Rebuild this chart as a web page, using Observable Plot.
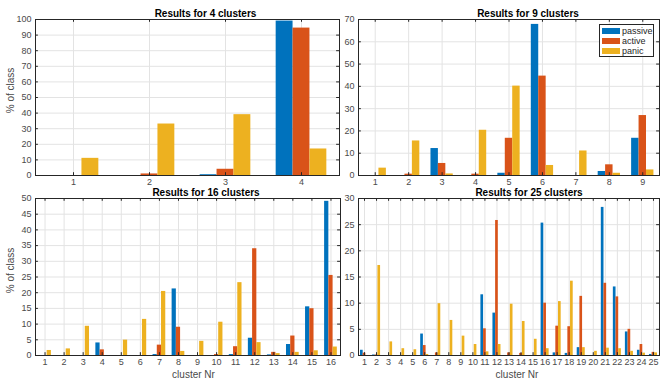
<!DOCTYPE html>
<html>
<head>
<meta charset="utf-8">
<script src="https://cdn.jsdelivr.net/npm/d3@7"></script>
<script src="https://cdn.jsdelivr.net/npm/@observablehq/plot@0.6"></script>
<style>
  html, body { margin: 0; padding: 0; background: #fff; }
  #chart { position: relative; width: 660px; height: 379px; overflow: hidden; background: #fff;
    font-family: "Liberation Sans", Arial, Helvetica, sans-serif; }
  #chart svg { position: absolute; }
  .legend { position: absolute; left: 599px; top: 24px; width: 53px; height: 31px;
    border: 1px solid #262626; background: #fff; font-size: 9px; color: #262626; }
  .legend .row { position: absolute; left: 2px; height: 10px; line-height: 10px; white-space: nowrap; }
  .legend .sw { position: absolute; left: 0; top: 2px; width: 18px; height: 6px; }
  .legend .lbl { position: absolute; left: 20px; top: 0; }
</style>
</head>
<body>
<div id="chart"></div>
<script>
// ---- data ----
const seriesNames = ["passive", "active", "panic"];
const seriesColors = ["#0072BD", "#D95319", "#EDB120"];

const titles = ["Results for 4 clusters", "Results for 9 clusters", "Results for 16 clusters", "Results for 25 clusters"];
const yLabel = "% of class";
const xLabel = "cluster Nr";

const passive4 = [0, 0, 0.5, 99];
const active4  = [0, 1, 4, 94.5];
const panic4   = [11, 33, 39, 17];

const passive9 = [0, 0, 12.1, 0, 1, 67.8, 0, 1.8, 16.7];
const active9  = [0, 0.6, 5.4, 0.6, 16.7, 44.6, 0, 4.8, 26.9];
const panic9   = [3.3, 15.5, 0.7, 20.3, 40.1, 4.5, 11, 1.0, 2.5];

const passive16 = [0, 0, 0, 4.0, 0, 0, 0.3, 21.2, 0, 0, 0.3, 5.5, 0.2, 3.5, 15.5, 49.1];
const active16  = [0, 0, 0, 1.8, 0, 0, 3.3, 9.0, 0, 0.3, 2.8, 34.0, 1.0, 6.2, 14.9, 25.5];
const panic16   = [1.6, 2.1, 9.3, 0, 4.9, 11.5, 20.4, 1.3, 4.5, 10.6, 23.2, 4.1, 0.6, 1.0, 1.5, 2.7];

const passive25 = [1.0, 0.1, 0, 0, 0, 4.1, 0, 0, 0, 0, 11.6, 8.1, 0, 0, 0, 25.3, 0.5, 0.4, 1.5, 0, 28.3, 13.1, 4.5, 1.0, 0.2];
const active25  = [0.45, 0.1, 0, 0, 0, 1.9, 0.5, 0, 0, 0, 5.1, 25.8, 0.5, 0.4, 0, 10.0, 5.6, 5.5, 11.3, 0, 13.8, 11.2, 5.0, 2.1, 0.6];
const panic25   = [0, 17.2, 2.6, 1.3, 1.1, 0.2, 9.9, 6.7, 3.7, 2.1, 0.7, 2.1, 9.8, 6.5, 3.1, 1.3, 10.3, 14.2, 1.5, 0.8, 1.4, 1.3, 0.8, 0.45, 0.5];

const yTicks4  = [0, 10, 20, 30, 40, 50, 60, 70, 80, 90, 100];
const yTicks9  = [0, 10, 20, 30, 40, 50, 60, 70];
const yTicks16 = [0, 5, 10, 15, 20, 25, 30, 35, 40, 45, 50];
const yTicks25 = [0, 5, 10, 15, 20, 25, 30];

// ---- layout ----
const panels = [
  {title: titles[0], vals: [passive4, active4, panic4], yTicks: yTicks4,
   left: 0, top: 0, width: 345, height: 190, mL: 35, mR: 6, mT: 19, mB: 15,
   titleDx: 18, titleDy: -6, ylab: true, ylabDy: -7, xlab: false},
  {title: titles[1], vals: [passive9, active9, panic9], yTicks: yTicks9,
   left: 330, top: 0, width: 330, height: 190, mL: 28, mR: 1, mT: 19, mB: 15,
   titleDx: 19, titleDy: -6, ylab: false, xlab: false},
  {title: titles[2], vals: [passive16, active16, panic16], yTicks: yTicks16,
   left: 0, top: 185, width: 345, height: 194, mL: 35, mR: 5, mT: 13, mB: 24,
   titleDx: 18, titleDy: -5.5, ylab: true, ylabDy: -6.5, xlab: true, xlabDx: 5.5},
  {title: titles[3], vals: [passive25, active25, panic25], yTicks: yTicks25,
   left: 330, top: 185, width: 330, height: 194, mL: 28, mR: 1, mT: 13, mB: 24,
   titleDx: 20, titleDy: -5.5, ylab: false, xlab: true, xlabDx: 8}
];

const chart = document.getElementById("chart");
const barW = 2 / 9; // MATLAB grouped bar width for 3 series
const axisColor = "#262626";
const gridColor = "#e3e3e3";
const tickText = "#4a4a4a";

for (const p of panels) {
  const n = p.vals[0].length;
  const clusters = d3.range(1, n + 1);
  const ymax = p.yTicks[p.yTicks.length - 1];
  const rows = [];
  p.vals.forEach((arr, j) => arr.forEach((v, i) => {
    rows.push({cluster: i + 1, series: seriesNames[j], j, value: v});
  }));
  const tx = n * 0.0095;     // inner tick length (x units)
  const ty = ymax * 0.018;   // inner tick length (y units)

  const marks = [
    Plot.gridX(clusters, {stroke: gridColor, strokeOpacity: 1}),
    Plot.gridY(p.yTicks, {stroke: gridColor, strokeOpacity: 1}),
    Plot.rectY(rows.filter(d => d.value > 0), {
      x1: d => d.cluster + (d.j - 1) * barW - barW / 2,
      x2: d => d.cluster + (d.j - 1) * barW + barW / 2,
      y1: 0, y2: "value",
      fill: d => seriesColors[d.j]
    }),
    // inward ticks
    Plot.ruleX(clusters, {x: d => d, y1: 0, y2: ty, stroke: axisColor}),
    Plot.ruleX(clusters, {x: d => d, y1: ymax, y2: ymax - ty, stroke: axisColor}),
    Plot.ruleY(p.yTicks, {y: d => d, x1: 0.5, x2: 0.5 + tx, stroke: axisColor}),
    Plot.ruleY(p.yTicks, {y: d => d, x1: n + 0.5, x2: n + 0.5 - tx, stroke: axisColor}),
    Plot.axisX(clusters, {tickSize: 0, tickPadding: 3, label: null, fill: tickText, fontSize: 9, tickFormat: d => String(d)}),
    Plot.axisY(p.yTicks, {tickSize: 0, tickPadding: 4, label: null, fill: tickText, fontSize: 9, tickFormat: d => String(d)}),
    Plot.frame({stroke: axisColor, strokeWidth: 1}),
    Plot.text([p.title], {text: d => d, frameAnchor: "top", lineAnchor: "middle", dx: p.titleDx, dy: p.titleDy,
      fontWeight: "bold", fontSize: 10, fill: "#000"})
  ];
  if (p.ylab) {
    marks.push(Plot.text([yLabel], {text: d => d, frameAnchor: "left", rotate: -90,
      textAnchor: "middle", lineAnchor: "middle",
      dx: -25, dy: p.ylabDy, fontSize: 10, fill: tickText}));
  }
  if (p.xlab) {
    marks.push(Plot.text([xLabel], {text: d => d, frameAnchor: "bottom", lineAnchor: "middle",
      dx: p.xlabDx, dy: 19, fontSize: 10, fill: tickText}));
  }

  const svg = Plot.plot({
    width: p.width, height: p.height,
    marginLeft: p.mL, marginRight: p.mR, marginTop: p.mT, marginBottom: p.mB,
    x: {type: "linear", domain: [0.5, n + 0.5]},
    y: {type: "linear", domain: [0, ymax]},
    style: {background: "transparent", fontFamily: '"Liberation Sans", Arial, Helvetica, sans-serif', fontSize: "9px", overflow: "visible"},
    marks
  });
  svg.style.left = p.left + "px";
  svg.style.top = p.top + "px";
  chart.appendChild(svg);
}

// legend (drawn on top of the 9-cluster panel)
const legend = document.createElement("div");
legend.className = "legend";
seriesNames.forEach((name, j) => {
  const row = document.createElement("div");
  row.className = "row";
  row.style.top = (1 + j * 10) + "px";
  const sw = document.createElement("span");
  sw.className = "sw";
  sw.style.background = seriesColors[j];
  const lbl = document.createElement("span");
  lbl.className = "lbl";
  lbl.textContent = name;
  row.appendChild(sw);
  row.appendChild(lbl);
  legend.appendChild(row);
});
chart.appendChild(legend);
</script>
</body>
</html>
